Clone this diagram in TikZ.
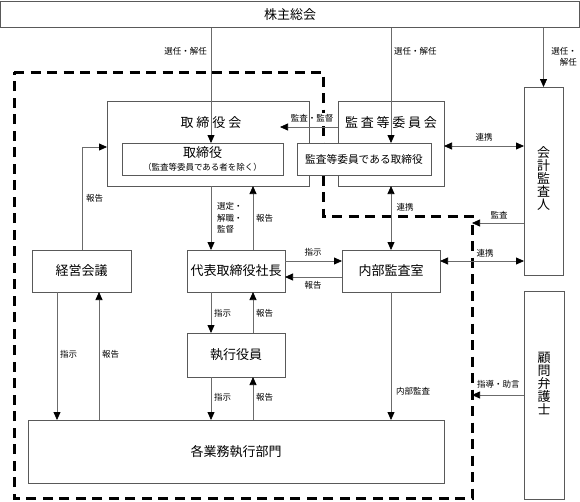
\documentclass[tikz,border=0pt]{standalone}
\usepackage{fontspec}
\setmainfont{Noto Sans CJK JP}
\usetikzlibrary{arrows.meta}
\definecolor{boxc}{gray}{0.35}
\definecolor{linec}{gray}{0.42}
\tikzset{
  bx/.style 2 args={draw=boxc, line width=0.75pt, fill=white, inner sep=0pt, outer sep=0pt, minimum width=#1, minimum height=#2},
  big/.style={font=\fontsize{13}{13}\selectfont},
  mid/.style={font=\fontsize{10.7}{12}\selectfont},
  small/.style={font=\fontsize{8.5}{11.5}\selectfont, inner sep=0pt},
  tip/.tip={Triangle[width=7pt,length=8pt,color=black,fill=black]},
  arr/.style={draw=linec, line width=0.75pt, -tip},
  darr/.style={draw=linec, line width=0.75pt, tip-tip},
  dashbox/.style={draw=black, line width=3pt, dash pattern=on 10pt off 6.5pt}
}
\begin{document}
\begin{tikzpicture}[x=1pt,y=-1pt]
\useasboundingbox (0,0) rectangle (580,501);
% dashed boundary
\draw[dashbox] (14,72) -- (323,72) -- (323,216) -- (472,216) -- (472,498) -- (14,498) -- cycle;
\node[small, fill=white, inner sep=1.5pt] (l4) at (312,118.5) {監査・監督};
% boxes
\node[bx={579pt}{26.5pt}, big] (soukai) at (290,14.25) {株主総会};
\node[bx={202pt}{85pt}, fill=none] (tkai) at (208,143.5) {};
\node[big, inner sep=0pt] (tkaiT) at (211,123) {取\hspace{3pt}締\hspace{3pt}役\hspace{3pt}会};
\node[bx={161pt}{32pt}] (tyaku) at (202.5,159) {};
\node[big, inner sep=0pt] (tyakuT) at (202.5,153) {取締役};
\node[small] (tyakuS) at (202.5,167) {（監査等委員である者を除く）};
\node[bx={106pt}{85pt}, fill=none] (kkai) at (391,143.5) {};
\node[big, inner sep=0pt] (kkaiT) at (391,123) {監\hspace{2.8pt}査\hspace{2.8pt}等\hspace{2.8pt}委\hspace{2.8pt}員\hspace{2.8pt}会};
\node[bx={134pt}{32pt}, mid] (ktori) at (364,159) {監査等委員である取締役};
\node[bx={39pt}{188pt}] (kaikei) at (543.5,181) {};
\node[big, align=center, inner sep=0pt] (kaikeiT) at (543.5,179) {会\\計\\監\\査\\人};
\node[bx={40pt}{208pt}] (komon) at (544,395) {};
\node[big, align=center, inner sep=0pt] (komonT) at (544,383) {顧\\問\\弁\\護\\士};
\node[bx={99pt}{42pt}, big] (keiei) at (81.5,271) {経営会議};
\node[bx={98pt}{42pt}, big] (daihyo) at (236,271) {代表取締役社長};
\node[bx={98pt}{42pt}, big] (naibu) at (391,271) {内部監査室};
\node[bx={98pt}{44pt}, big] (shikkou) at (236,355) {執行役員};
\node[bx={416pt}{63pt}, big] (kaku) at (236,451.5) {各業務執行部門};
% helper coordinates
\coordinate (xa) at (211,0);
\coordinate (xb) at (253,0);
\coordinate (xk1) at (57,0);
\coordinate (xk2) at (99,0);
\coordinate (xk3) at (82,0);
\coordinate (xc) at (391,0);
\coordinate (ya) at (0,127);
\coordinate (yb) at (0,146);
\coordinate (yc) at (0,147);
\coordinate (yd) at (0,223);
\coordinate (ye) at (0,261);
\coordinate (yf) at (0,277);
\coordinate (dR) at (472,0);
\coordinate (kkT) at (280,127);
% connectors
\draw[arr] (xa |- soukai.south) -- (xa |- tyaku.north);
\draw[arr] (xc |- soukai.south) -- (xc |- ktori.north);
\draw[arr] (kaikei.north |- soukai.south) -- (kaikei.north);
\draw[arr] (ya -| kkai.west) -- (kkT);
\draw[darr] (yb -| kkai.east) -- (yb -| kaikei.west);
\draw[arr] (yd -| kaikei.west) -- (yd -| dR);
\draw[darr] (ye -| naibu.east) -- (ye -| kaikei.west);
\draw[darr] (kkai.south) -- (naibu.north);
\draw[arr] (naibu.south) -- (naibu.south |- kaku.north);
\draw[arr] (komon.west) -- (komon.west -| dR);
\draw[arr] (ye -| daihyo.east) -- (ye -| naibu.west);
\draw[arr] (yf -| naibu.west) -- (yf -| daihyo.east);
\draw[arr] (xa |- tkai.south) -- (xa |- daihyo.north);
\draw[arr] (xb |- daihyo.north) -- (xb |- tkai.south);
\draw[arr] (xk3 |- keiei.north) |- (yc -| tkai.west);
\draw[arr] (xk1 |- keiei.south) -- (xk1 |- kaku.north);
\draw[arr] (xk2 |- kaku.north) -- (xk2 |- keiei.south);
\draw[arr] (xa |- daihyo.south) -- (xa |- shikkou.north);
\draw[arr] (xb |- shikkou.north) -- (xb |- daihyo.south);
\draw[arr] (xa |- shikkou.south) -- (xa |- kaku.north);
\draw[arr] (xb |- kaku.north) -- (xb |- shikkou.south);
% labels
\node[small, anchor=east] (l1) at (207,51) {選任・解任};
\node[small, anchor=west] (l2) at (394,51) {選任・解任};
\node[small, anchor=east, align=right] (l3) at (577,57) {選任・\\解任};
\node[small] (l5) at (484,137) {連携};
\node[small] (l6) at (405,207) {連携};
\node[small] (l7) at (499,215) {監査};
\node[small] (l8) at (485,253) {連携};
\node[small] (l9) at (313,252) {指示};
\node[small] (l10) at (313,285) {報告};
\node[small, anchor=west] (l11) at (86,198) {報告};
\node[small, anchor=west, align=left] (l12) at (217,218) {選定・\\解職・\\監督};
\node[small, anchor=west] (l13) at (256,218) {報告};
\node[small, anchor=west] (l14) at (60,354) {指示};
\node[small, anchor=west] (l15) at (102,354) {報告};
\node[small, anchor=west] (l16) at (214,313) {指示};
\node[small, anchor=west] (l17) at (256,313) {報告};
\node[small, anchor=west] (l18) at (214,397) {指示};
\node[small, anchor=west] (l19) at (256,397) {報告};
\node[small, anchor=west] (l20) at (396,391) {内部監査};
\node[small, anchor=west] (l21) at (477,384) {指導・助言};
\end{tikzpicture}
\end{document}
